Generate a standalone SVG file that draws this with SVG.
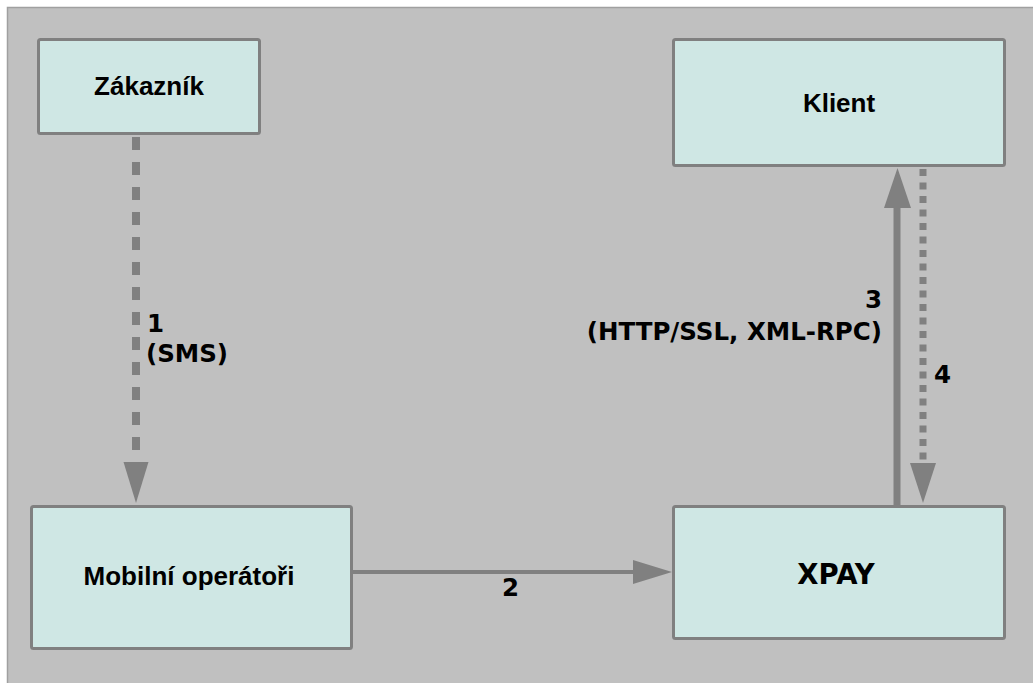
<svg xmlns="http://www.w3.org/2000/svg" width="1033" height="683" viewBox="0 0 1033 683">
<style>
.box{fill:#cfe7e4;stroke:#808080;stroke-width:3}
.nt{font-family:"Liberation Sans",Arial,sans-serif;font-weight:bold;font-size:26px;fill:#000;text-anchor:middle}
.xp{font-family:"DejaVu Sans",Verdana,sans-serif;font-weight:bold;font-size:27.5px;fill:#000;text-anchor:middle}
.lb{font-family:"DejaVu Sans",Verdana,sans-serif;font-weight:bold;font-size:24.5px;fill:#000}
.ln{stroke:#808080;fill:none}
.hd{fill:#808080}
</style>
<rect x="0" y="0" width="1033" height="683" fill="#ffffff"/>
<rect x="7.5" y="7.5" width="1040" height="690" fill="#c0c0c0" stroke="#a0a0a0" stroke-width="1.5"/>
<g id="connectors">
  <line class="ln" x1="136" y1="137" x2="136" y2="463" stroke-width="8" stroke-dasharray="13 12"/>
  <polygon class="hd" points="123.5,462 148.5,462 136,503"/>
  <line class="ln" x1="897" y1="505" x2="897" y2="206" stroke-width="7"/>
  <polygon class="hd" points="884,208 911,208 897.5,168"/>
  <line class="ln" x1="923" y1="169" x2="923" y2="464" stroke-width="7" stroke-dasharray="7 6.5"/>
  <polygon class="hd" points="910,463 936,463 923,503"/>
  <line class="ln" x1="353" y1="572" x2="635" y2="572" stroke-width="4"/>
  <polygon class="hd" points="633,560 633,584 672,572"/>
  <text class="lb" x="147" y="332">1</text>
  <text class="lb" x="146" y="362">(SMS)</text>
  <text class="lb" x="882" y="308" text-anchor="end">3</text>
  <text class="lb" x="882" y="340" text-anchor="end">(HTTP/SSL, XML-RPC)</text>
  <text class="lb" x="934" y="383">4</text>
  <text class="lb" x="502" y="596">2</text>
</g>
<g id="zakaznik">
  <rect class="box" x="38.5" y="39.5" width="221" height="94" rx="2"/>
  <text class="nt" x="149" y="95">Zákazník</text>
</g>
<g id="klient">
  <rect class="box" x="673.5" y="39.5" width="331" height="126" rx="2"/>
  <text class="nt" x="839" y="112">Klient</text>
</g>
<g id="mobilni">
  <rect class="box" x="31.5" y="506.5" width="320" height="142" rx="2"/>
  <text class="nt" x="189" y="585">Mobilní operátoři</text>
</g>
<g id="xpay">
  <rect class="box" x="673.5" y="506.5" width="331" height="132" rx="2"/>
  <text class="xp" x="836" y="584">XPAY</text>
</g>
</svg>
